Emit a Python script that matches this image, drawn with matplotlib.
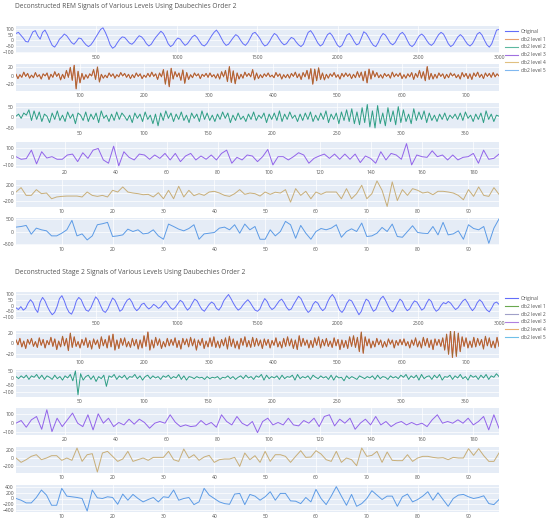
import numpy as np
import matplotlib.pyplot as plt
from matplotlib.lines import Line2D

plt.rcParams['font.family'] = ['Open Sans', 'DejaVu Sans']

W, H = 550, 524

# ---- REM (top block) ----
rem_titles = "Deconstructed REM Signals of Various Levels Using Daubechies Order 2"
rem_orig = [
    60, 70, 45, 20, -10, -15, 30, 75, 85, 40, 10, 70, 90, 50, 0, -45, -60, -30, 10, 30,
    55, 40, 10, -20, -35, -10, 20, 15, -15, -40, -55, -40, -10, 25, 60, 95, 110, 70, 20, -40,
    -70, -55, -20, 10, 30, 25, 0, -25, -35, -15, 15, 40, 30, 5, -30, -50, -35, 0, 30, 55,
    80, 60, 20, -30, -55, -40, -5, 20, 10, -20, -45, -30, 0, 30, 45, 25, -10, -40, -50, -30,
    5, 40, 70, 90, 60, 20, -20, -45, -35, -5, 25, 50, 35, 0, -30, -45, -20, 20, 60, 70,
    45, 15, -25, -50, -40, -10, 30, 60, 45, 10, -20, -40, -30, 0, 25, 15, -15, -40, -55, -35,
    20, 70, 85, 55, 15, -25, -50, -35, 10, 50, 65, 40, 0, -40, -60, -45, 0, 45, 60, 30,
    -10, -40, -30, 20, 75, 60, 25, -15, -45, -55, -20, 30, 60, 45, 10, -25, -40, -20, 20, 55,
    70, 45, 0, -40, -55, -35, 5, 40, 55, 35, 0, -30, -45, -25, 15, 50, 70, 55, 15, -30,
    -55, -40, -5, 30, 50, 30, -5, -35, -50, -30, 10, 55, 70, 45, 0, -40, -60, -30, 30, 90, 95,
]
rem_l1 = [
    3, -7, 2, -4, 8, -2, 5, -6, 1, -5, 7, -3, 2, -8, 4, -1, 6, -9, 3, -4,
    9, -2, 5, -10, 3, -7, 12, -4, 19, -11, 24, -31, 10, -17, 5, -9, 2, -6, 4, -1,
    14, -9, 20, -15, 3, -6, 1, -5, 6, -2, 4, -6, 2, -3, 7, -1, 5, -4, 3, -7,
    2, -5, 6, -2, 4, -7, 1, -4, 5, -3, 8, -2, 4, -9, 6, -3, 14, -20, 11, -26,
    17, -8, 9, -3, 6, -11, 13, -18, 7, -9, 2, -5, 6, -1, 4, -7, 3, -2, 5, -4,
    6, -3, 2, -6, 4, -8, 9, -3, 12, -14, 21, -16, 11, -19, 6, -8, 3, -6, 8, -2,
    5, -3, 14, -10, 6, -7, 2, -5, 4, -2, 6, -3, 1, -5, 7, -2, 4, -8, 2, -5,
    3, -6, 5, -2, 8, -5, 4, -9, 7, -3, 12, -8, 16, -20, 15, -12, 18, -9, 6, -10,
    3, -6, 4, -2, 7, -4, 2, -8, 5, -3, 6, -2, 4, -7, 3, -5, 9, -4, 8, -12,
    10, -17, 15, -8, 11, -3, 7, -5, 2, -6, 5, -2, 3, -6, 8, -3, 4, -2, 6, -7,
    2, -6, 4, -3, 7, -9, 5, -4, 12, -6, 9, -12, 21, -9, 5, -8, 3, -6, 6, -2,
    4, -7, 3, -5, 6, -1, 4, -5, 2, -8, 7, -3, 5, -7, 4, -9, 6, -2, 8, -4,
    3, -7, 6, -2, 5, -4, 7, -3, 4, -1,
]
rem_l2 = [
    5, 15, -5, 20, 10, 35, -15, 30, -10, 25, -20, 15, 5, -25, 20, -10, 30, -15, 10, -20,
    25, -5, 15, -30, 20, 10, -15, 25, -20, 15, -10, 20, -25, 30, -5, 10, -20, 15, -15, 25,
    -10, 20, 5, -15, 10, -25, 20, -5, 15, -20, 25, -10, 10, -30, 15, -40, 20, -15, 30, -5,
    20, -20, 15, -10, 25, -15, 10, -25, 20, -5, 15, -20, 30, -10, 20, -15, 10, -20, 15, -10,
    25, -5, 20, -25, 10, -15, 20, -10, 5, -20, 15, -10, 25, -15, 10, -5, 20, -25, 15, -10,
    20, -15, 30, -20, 15, -10, 25, -5, 10, -20, 15, -15, 20, -10, 25, -20, 10, -15, 20, -10,
    30, -25, 15, -10, 20, -30, 25, -15, 35, -20, 40, -30, 25, -35, 45, -25, 60, -45, 30, -50,
    55, -30, 20, -40, 45, -20, 30, -35, 50, -25, 35, -20, 15, -30, 40, -15, 25, -10, 30, -25,
    20, -15, 10, -20, 15, -10, 20, -15, 10, -5, 15, -10, 20, -15, 25, -5, 10, -20, 15, -10,
    20, -25, 30, -10, 15, -20, 10, 5,
]
rem_l3 = [
    0, -31, -23, 78, -86, 59, -16, 0, -31, -31, 20, 31, -59, 47, -20, 78, 98, -39, -78, 125,
    -109, 59, -8, -39, 31, 20, -31, 20, -20, 39, -39, 39, -59, 8, 39, -39, 8, -31, 20, -39,
    39, 78, -78, -8, -39, 20, 8, -59, 0, 86, -98,
    0, 0, -39, 0, 47, 20, -78, -20, 8, 31, -20, 31, -31, 31, -31, 31, -70, 8, -20, -78,
    59, -39, 39, 20, -31, 156, -98, 20, 0, -8, 70, 0, 20, -39, 20, -39, -8, 0, 39, -78,
    78, -31, -20, 31,
]
rem_l4 = [
    25, 136, -60, -60, 85, -17, 0, -145, -100, -85, -77, -77, -77, -100, 25, -60, -85, -60, -100, 68,
    25, 153, 25, 0, -17, -43, -34, -100, 8, -145, 68, -145, 170, -100, 68, -68, -17, -60, 25, 43,
    0, -60, -85, -17, 85, -34, 0, -17, -77, 25, -34, 20, 0, 85, -230, 110, -60, 43, -145, 25,
    -34, 25, 25, 25, -145, 110, -145, -17, 195, -145, -17, 305, 68, -340, 280, -190, 85, -60, 110, 68,
    0, 25, -43, 43, 43, 25, 0, -60, -170, 85, -85, 153, -60, -85, 136, -34,
]
rem_l5 = [
    175, 200, 243, -108, 135, 68, 27, -175, -175, -68, 68, 445, -175, -95, -338, -175, 270, 310, 365, -200,
    -175, -135, 95, 0, 68, -95, -68, 68, -175, -310, 297, 200, 95, 27, 120, 270, -310, -95, -68, -40,
    135, 175, 68, 270, -68, 297, 68, 200, -310, -310, 68, -175, 0, 405, 270, -270, 243, -68, -310, 0,
    120, 68, 135, 270, -230, 0, 108, 0, 338, -200, -175, -68, 162, 0, 297, -200, -230, 0, 230, -40,
    -68, -81, 200, -135, 365, -135, -95, 27, -310, 270, 120, 68, 200, -472, 135, 500,
]

# ---- Stage 2 (bottom block) ----
st2_titles = "Deconstructed Stage 2 Signals of Various Levels Using Daubechies Order 2"
st2_orig = [
    -20, -35, -10, -40, -25, 20, 50, 25, -30, -60, 30, 70, 40, -10, -50, -80, -60, -10, 60, 85,
    40, -20, -60, -75, -30, 40, 70, 50, 0, -40, -50, -20, 30, 75, 50, 0, -45, -60, -30, 20,
    65, 45, 0, -50, -35, 10, 45, 60, 30, -20, -45, -25, 10, 20, -10, -30, -15, 10, -5, -25,
    -10, 20, 40, 10, -20, -35, -15, 15, 45, 30, -10, -40, -20, 20, 55, 40, 0, -35, -50, -20,
    10, 30, 15, -25, -40, -10, 40, 70, 95, 60, 20, -15, -40, -25, 5, 30, 50, 25, -10, -40,
    -50, -30, 20, 60, 35, -10, -35, -20, 10, 40, 55, 25, -15, -40, -30, 10, 45, 80, 60, 15,
    -30, -60, -40, 10, 35, 20, -20, -45, -25, 30, 70, 95, 65, 10, -40, -60, -30, 20, 50, 40,
    0, -40, -80, -50, 10, 55, 40, -10, -50, -35, 15, 60, 80, 45, 0, -40, -55, -25, 20, 55,
    35, -15, -45, -30, 10, 40, 30, -5, -40, -25, 20, 55, 35, -20, -50, -35, 0, 25, 15, 35,
    20, -10, -35, -20, 10, 40, 55, 25, -15, -45, -20, 25, 50, 30, -10, -40, -55, -20, 20, 30, 10,
]
st2_l1 = [
    6, -3, 9, -7, 4, -10, 7, -2, 9, -6, 3, -8, 10, -4, 7, -9, 5, -3, 11, -6,
    8, -12, 4, -7, 13, -5, 9, -14, 19, -8, 12, -6, 3, -9, 7, -4, 10, -8, 5, -11,
    8, -3, 6, -10, 12, -5, 7, -9, 14, -7, 17, -13, 6, -10, 9, -4, 10, -7, 3, -8,
    9, -5, 7, -11, 6, -9, 14, -6, 21, -13, 6, -9, 11, -4, 8, -10, 3, -7, 9, -5,
    7, -4, 10, -8, 5, -11, 9, -3, 8, -7, 11, -5, 8, -13, 6, -4, 9, -10, 4, -7,
    10, -6, 12, -8, 4, -9, 7, -5, 10, -11, 13, -6, 8, -9, 4, -11, 9, -4, 12, -7,
    5, -8, 11, -6, 9, -5, 6, -10, 8, -4, 7, -9, 5, -4, 10, -7, 3, -9, 9, -6,
    12, -5, 8, -10, 6, -12, 14, -6, 9, -4, 6, -9, 5, -8, 10, -4, 12, -9, 7, -5,
    9, -6, 4, -8, 10, -5, 7, -12, 6, -8, 5, -10, 12, -6, 14, -8, 11, -16, 21, -19,
    12, -5, 8, -9, 4, -7, 9, -3, 6, -8, 3, -7, 8, -2, 6, -9, 5, -4, 7, -3,
    8, -5, 3, -9, 6, -4, 10, -7, 4, -9, 11, -5, 9, -8, 6, -12, 8, -4, 7, -6,
    10, -13, 17, -21, 24, -27, 22, -25, 19, -16, 12, -6, 10, -9, 4, -8, 11, -7, 9, -4,
    7, -11, 13, -5, 10, -8, 4, -9, 11, -6,
]
st2_l2 = [
    10, -5, 15, 0, 20, -10, 15, 5, 25, -5, 20, -10, 15, 5, -10, 20, -5, 10, -15, 15,
    0, 25, -20, 50, -120, 30, -15, 10, 20, -10, 15, -25, 10, -5, 20, -60, 15, 5, 25, -10,
    15, 0, 20, -10, 10, 5, 25, -5, 15, -15, 10, 20, -5, 15, 0, 10, -10, 15, 5, 20,
    -5, 10, 0, 25, -10, 15, -15, 10, 5, -5, 10, 0, 5, -10, 10, -5, 5, 0, 10, -10,
    5, 0, 15, -5, 10, -10, 5, 15, -5, 20, 0, 10, -10, 15, 5, 25, -15, 20, -5, 10,
    0, 15, -10, 20, -5, 10, 5, 20, -15, 25, -5, 10, 0, 15, -10, 20, 5, -5, 15, 0,
    10, -10, 20, -15, 15, 0, 5, -20, 15, -5, 10, 0, -10, 15, 5, -5, 10, 0, 15, -10,
    20, -5, 10, 5, -10, 15, 0, 10, -5, 20, 5, 25, -10, 15, 0, 20, -15, 25, -5, 10,
    15, -10, 20, 0, 25, -15, 10, 5, 20, -10, 15, 0, 25, -5, 10, -15, 20, 5, 15, -10,
    20, 0, 25, -10, 15, 5, 30, 10,
]
st2_l3 = [
    0, 30, -45, 38, 75, -68, 150, -94, 56, -38, 38, 113, 0, -38, 94, -75, 105, 0, 56, -38,
    8, -19, 45, -11, 45, 8, -56, 0, 19, 0, 94, 11, -38, -19, -38, -30, 30, -19, 8, -45,
    94, 19, -19, 75, 0, -30, 19, -105, 19, 56, -19,
    8, -19, 56, -19, -30, 30, 0, 56, -38, 75, 94, -30, 45, 0, 56, -68, 0, 45, -19, 75,
    -19, 19, -38, 0, 19, -19, 8, -19, 0, -38, 38, 94, 0, 19, 0, 38, 0, 56, -19, 19,
    75, -75, 94, -56,
]
st2_l4 = [
    -8, -119, -51, 34, 76, -51, -8, 51, 51, -68, -8, -68, 246, -94, 76, 102, -365, 119, 161, 34,
    -94, -34, 161, -94, -51, -8, -68, 8, 8, 8, 161, -51, -94, 221, -8, 76, -68, 17, 59, -119,
    -51, -34, -34, 8, -221, 119, -51, 51, -119, 161, -94, 76, 76, 34, -119, 34, 178, 8, 17, 178,
    93, -51, -94, 161, -119, -8, -51, -204, 246, 34, 59, 161, -119, 144, -68, -76, -76, 76, -94, -8,
    34, 34, 8, -8, 0, -51, 8, -8, -8, 229, 59, 229, 51, -94, -94, 119,
]
st2_l5 = [
    0, -62, -160, -160, 37, 308, 123, -246, -246, 369, 86, 62, 37, 0, -455, 308, 25, 0, 62, 37,
    -209, 160, -62, 148, 0, -123, -37, 37, -123, 62, 37, 308, -62, 0, 37, -221, -123, 369, 123, 0,
    -123, -185, -209, 160, 185, -221, 148, 86, -62, 62, 246, -62, 185, 185, -86, -98, -185, 37, -123, 332,
    0, -221, 86, 430, 86, -246, 148, -283, -185, 0, 283, 123, -37, 86, 86, -283, 62, 160, -123, -37,
    86, 246, -62, 209, -37, -283, 0, 123, 148, 62, 0, 37, 98, -185, -221, -37,
]

labels = ["Original", "db2 level 1", "db2 level 2", "db2 level 3", "db2 level 4", "db2 level 5"]
lengths = [3000, 751, 376, 190, 96, 96]
xticks = [
    [500, 1000, 1500, 2000, 2500, 3000],
    [100, 200, 300, 400, 500, 600, 700],
    [50, 100, 150, 200, 250, 300, 350],
    [20, 40, 60, 80, 100, 120, 140, 160, 180],
    [10, 20, 30, 40, 50, 60, 70, 80, 90],
    [10, 20, 30, 40, 50, 60, 70, 80, 90],
]
line_colors = ["#636EFA", "#E4553B", "#2E9E84", "#9263EA", "#C8AE78", "#5C9BE6"]
rem_legend_colors = ["#636EFA", "#E8A070", "#5DB8A0", "#A070E0", "#E0C080", "#80B8F0"]
st2_legend_colors = ["#636EFA", "#6AA84F", "#A0A0C8", "#B080E0", "#E8B070", "#70C0E8"]

rem_ylims = [(-112, 126), (-36, 27), (-55, 67), (-135, 175), (-353, 328), (-540, 540)]
rem_yticks = [[-100, -50, 0, 50, 100], [-20, 0, 20], [-50, 0, 50], [-100, 0, 100], [-200, 0, 200], [-500, 0, 500]]
st2_ylims = [(-117, 117), (-28, 23), (-136, 57), (-132, 170), (-390, 272), (-490, 490)]
st2_yticks = [[-100, -50, 0, 50, 100], [-20, 0, 20], [-100, -50, 0, 50], [-100, 0, 100], [-200, 0, 200], [-400, -200, 0, 200, 400]]

rem_rows = [(26, 53), (64, 91), (103, 129), (142, 168), (180, 207), (218, 245)]
st2_rows = [(292, 319), (331, 358), (370, 397), (408, 435), (447, 473), (485, 512)]

fig = plt.figure(figsize=(W / 100, H / 100), dpi=100)


def add_px_axes(top, bottom, left=16, right=499):
    return fig.add_axes([left / W, 1 - bottom / H, (right - left) / W, (bottom - top) / H])


def draw_block(title, title_y, series, rows, ylims, yticks, legend_colors, legend_top):
    fig.text(15 / W, 1 - title_y / H, title, fontsize=4.8, color="#555555", va="center", ha="left")
    for i, vals in enumerate(series):
        ax = add_px_axes(*rows[i])
        ax.set_facecolor("#E5ECF6")
        x = np.linspace(1, lengths[i], len(vals))
        if i == 1:
            ax.plot(x, vals, color=line_colors[i], lw=0.8)
            ax.plot(x, vals, color="#8C7434", lw=0.4)
        else:
            ax.plot(x, vals, color=line_colors[i], lw=0.7)
        ax.set_xlim(1, lengths[i])
        ax.set_ylim(*ylims[i])
        ax.set_xticks(xticks[i])
        ax.set_yticks(yticks[i])
        ax.grid(True, color="white", lw=0.5)
        ax.set_axisbelow(True)
        for s in ax.spines.values():
            s.set_visible(False)
        ax.tick_params(length=0, labelsize=3.6, labelcolor="#555555", pad=1.5)
    handles = [Line2D([0], [0], color=c, lw=0.8) for c in legend_colors]
    fig.legend(handles, labels, loc="upper left", bbox_to_anchor=(503 / W, 1 - legend_top / H),
               frameon=False, fontsize=3.6, handlelength=2.6, labelspacing=0.55, handletextpad=0.6,
               borderaxespad=0, labelcolor="#555555")


draw_block(rem_titles, 7, [rem_orig, rem_l1, rem_l2, rem_l3, rem_l4, rem_l5],
           rem_rows, rem_ylims, rem_yticks, rem_legend_colors, 27)
draw_block(st2_titles, 273, [st2_orig, st2_l1, st2_l2, st2_l3, st2_l4, st2_l5],
           st2_rows, st2_ylims, st2_yticks, st2_legend_colors, 294)

fig.savefig("out.png", dpi=100)
